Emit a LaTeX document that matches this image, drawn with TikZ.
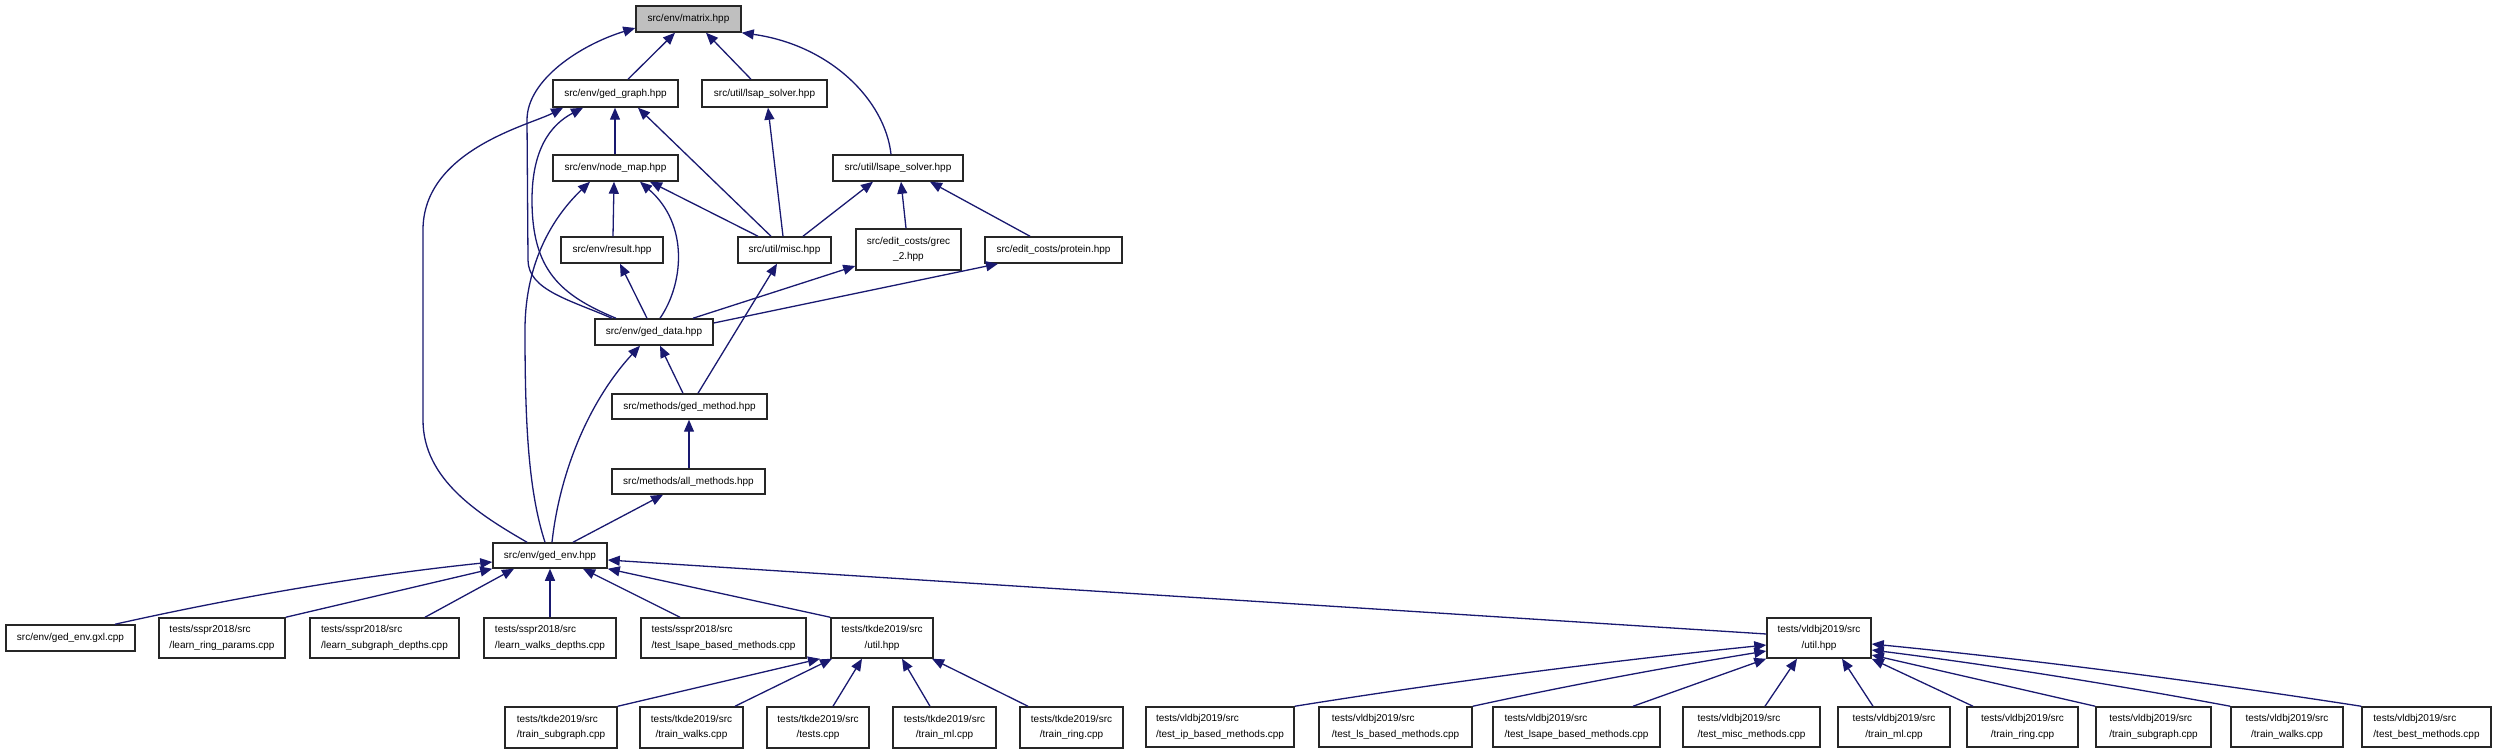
\documentclass[tikz,border=0pt]{standalone}
\usepackage{fontspec}
\setmainfont{Liberation Sans}
\usetikzlibrary{arrows.meta}
\definecolor{nodegray}{RGB}{191,191,191}
\definecolor{edgeblue}{RGB}{25,25,112}
\tikzset{
  box/.style={draw=black!85, line width=0.75pt, fill=white, inner sep=0pt,
    font={\fontsize{5}{7.85}\selectfont}, align=center},
  edge/.style={draw=edgeblue, line width=0.65pt, -{Triangle[length=6pt,width=5pt]}}
}
\newcommand{\bx}[7][]{%
  \pgfmathsetmacro\cx{(#3+#5)/2}\pgfmathsetmacro\cy{(#4+#6)/2}%
  \pgfmathsetmacro\ww{(#5-#3)*0.5}\pgfmathsetmacro\hh{(#6-#4)*0.5}%
  \node[box,minimum width=\ww pt,minimum height=\hh pt,#1] (#2) at (\cx,\cy) {#7};}
\begin{document}
\begin{tikzpicture}[x=0.5pt,y=-0.5pt]
\useasboundingbox (0,0) rectangle (2494,753);
% nodes
\bx[fill=nodegray]{matrix}{636}{6}{741}{32}{src/env/matrix.hpp}
\bx{ged_graph}{553}{80}{678}{107}{src/env/ged\_graph.hpp}
\bx{lsap}{702}{80}{827}{107}{src/util/lsap\_solver.hpp}
\bx{node_map}{553}{155}{678}{181}{src/env/node\_map.hpp}
\bx{lsape}{833}{155}{963}{181}{src/util/lsape\_solver.hpp}
\bx{result}{561}{237}{663}{263}{src/env/result.hpp}
\bx{misc}{738}{237}{831}{263}{src/util/misc.hpp}
\bx{grec}{856}{229}{961}{270}{src/edit\_costs/grec\\\_2.hpp}
\bx{protein}{985}{237}{1122}{263}{src/edit\_costs/protein.hpp}
\bx{ged_data}{595}{319}{713}{345}{src/env/ged\_data.hpp}
\bx{ged_method}{612}{394}{767}{419}{src/methods/ged\_method.hpp}
\bx{all_methods}{612}{469}{765}{494}{src/methods/all\_methods.hpp}
\bx{ged_env}{493}{543}{607}{568}{src/env/ged\_env.hpp}
\bx{gxl}{6}{625}{135}{651}{src/env/ged\_env.gxl.cpp}
\bx[align=left]{learn_ring}{159}{618}{285}{658}{tests/sspr2018/src\\/learn\_ring\_params.cpp}
\bx[align=left]{learn_subgraph}{310}{618}{459}{658}{tests/sspr2018/src\\/learn\_subgraph\_depths.cpp}
\bx[align=left]{learn_walks}{484}{618}{616}{658}{tests/sspr2018/src\\/learn\_walks\_depths.cpp}
\bx[align=left]{sspr_lsape}{641}{618}{806}{658}{tests/sspr2018/src\\/test\_lsape\_based\_methods.cpp}
\bx{tkde_util}{831}{618}{933}{658}{tests/tkde2019/src\\/util.hpp}
\bx[align=left]{t_subgraph}{505}{707}{617}{748}{tests/tkde2019/src\\/train\_subgraph.cpp}
\bx{t_walks}{640}{707}{743}{748}{tests/tkde2019/src\\/train\_walks.cpp}
\bx{t_tests}{767}{707}{869}{748}{tests/tkde2019/src\\/tests.cpp}
\bx{t_ml}{893}{707}{996}{748}{tests/tkde2019/src\\/train\_ml.cpp}
\bx{t_ring}{1020}{707}{1123}{748}{tests/tkde2019/src\\/train\_ring.cpp}
\bx{vldbj_util}{1767}{618}{1871}{658}{tests/vldbj2019/src\\/util.hpp}
\bx[align=left]{v_ip}{1146}{707}{1294}{747}{tests/vldbj2019/src\\/test\_ip\_based\_methods.cpp}
\bx[align=left]{v_ls}{1319}{707}{1472}{747}{tests/vldbj2019/src\\/test\_ls\_based\_methods.cpp}
\bx[align=left]{v_lsape}{1493}{707}{1660}{747}{tests/vldbj2019/src\\/test\_lsape\_based\_methods.cpp}
\bx[align=left]{v_misc}{1683}{707}{1820}{747}{tests/vldbj2019/src\\/test\_misc\_methods.cpp}
\bx{v_ml}{1838}{707}{1950}{747}{tests/vldbj2019/src\\/train\_ml.cpp}
\bx{v_ring}{1967}{707}{2078}{747}{tests/vldbj2019/src\\/train\_ring.cpp}
\bx[align=left]{v_subgraph}{2096}{707}{2211}{747}{tests/vldbj2019/src\\/train\_subgraph.cpp}
\bx{v_walks}{2231}{707}{2343}{747}{tests/vldbj2019/src\\/train\_walks.cpp}
\bx[align=left]{v_best}{2362}{707}{2491}{747}{tests/vldbj2019/src\\/test\_best\_methods.cpp}
% edges
\draw[edge] (628,0 |- ged_graph.north) -- (675,0 |- matrix.south);
\draw[edge] (751,0 |- lsap.north) -- (706,0 |- matrix.south);
\draw[edge] (891,0 |- lsape.north) .. controls (885,100) and (830,45) .. (matrix.south east);
\draw[edge] (612,0 |- ged_data.north) .. controls (570,300) and (528,290) .. (528,260) -- (527,120) .. controls (527,80) and (580,45) .. (matrix.west |- 0,28);
\draw[edge] (527,0 |- ged_env.north) .. controls (480,515) and (423,480) .. (423,420) -- (423,230) .. controls (423,150) and (530,125) .. (563,0 |- ged_graph.south);
\draw[edge] (616,0 |- ged_data.north) .. controls (560,295) and (532,270) .. (532,200) .. controls (532,150) and (550,125) .. (583,0 |- ged_graph.south);
\draw[edge] (615,0 |- node_map.north) -- (615,0 |- ged_graph.south);
\draw[edge] (771,0 |- misc.north) -- (638,0 |- ged_graph.south);
\draw[edge] (783,0 |- misc.north) -- (768,0 |- lsap.south);
\draw[edge] (545,0 |- ged_env.north) .. controls (528,490) and (525,420) .. (525,330) .. controls (525,260) and (555,215) .. (590,0 |- node_map.south);
\draw[edge] (613,0 |- result.north) -- (614,0 |- node_map.south);
\draw[edge] (660,0 |- ged_data.north) .. controls (683,285) and (690,225) .. (640,0 |- node_map.south);
\draw[edge] (758,0 |- misc.north) -- (650,0 |- node_map.south);
\draw[edge] (803,0 |- misc.north) -- (873,0 |- lsape.south);
\draw[edge] (906,0 |- grec.north) -- (901,0 |- lsape.south);
\draw[edge] (1030,0 |- protein.north) -- (930,0 |- lsape.south);
\draw[edge] (647,0 |- ged_data.north) -- (620,0 |- result.south);
\draw[edge] (693,0 |- ged_data.north) -- (grec.west |- 0,266);
\draw[edge] (ged_data.east |- 0,323) -- (998,0 |- protein.south);
\draw[edge] (698,0 |- ged_method.north) -- (777,0 |- misc.south);
\draw[edge] (683,0 |- ged_method.north) -- (660,0 |- ged_data.south);
\draw[edge] (552,0 |- ged_env.north) .. controls (560,470) and (590,400) .. (640,0 |- ged_data.south);
\draw[edge] (689,0 |- all_methods.north) -- (689,0 |- ged_method.south);
\draw[edge] (573,0 |- ged_env.north) -- (663,0 |- all_methods.south);
\draw[edge] (vldbj_util.west |- 0,634) -- (ged_env.east |- 0,560);
\draw[edge] (115,0 |- gxl.north) .. controls (241,596) and (367,575) .. (ged_env.west |- 0,562);
\draw[edge] (learn_ring.north east) -- (ged_env.south west);
\draw[edge] (425,0 |- learn_subgraph.north) -- (514,0 |- ged_env.south);
\draw[edge] (550,0 |- learn_walks.north) -- (550,0 |- ged_env.south);
\draw[edge] (680,0 |- sspr_lsape.north) -- (583,0 |- ged_env.south);
\draw[edge] (tkde_util.north west) -- (ged_env.south east);
\draw[edge] (t_subgraph.north east) -- (820,0 |- tkde_util.south);
\draw[edge] (735,0 |- t_walks.north) -- (832,0 |- tkde_util.south);
\draw[edge] (833,0 |- t_tests.north) -- (862,0 |- tkde_util.south);
\draw[edge] (930,0 |- t_ml.north) -- (902,0 |- tkde_util.south);
\draw[edge] (1028,0 |- t_ring.north) -- (932,0 |- tkde_util.south);
\draw[edge] (v_ip.north east) .. controls (1452,681) and (1610,661) .. (vldbj_util.west |- 0,645);
\draw[edge] (v_ls.north east) .. controls (1570,685) and (1668,667) .. (vldbj_util.west |- 0,651);
\draw[edge] (1633,0 |- v_lsape.north) -- (vldbj_util.south west);
\draw[edge] (1765,0 |- v_misc.north) -- (1797,0 |- vldbj_util.south);
\draw[edge] (1873,0 |- v_ml.north) -- (1842,0 |- vldbj_util.south);
\draw[edge] (1973,0 |- v_ring.north) -- (vldbj_util.south east);
\draw[edge] (v_subgraph.north west) -- (vldbj_util.east |- 0,655);
\draw[edge] (v_walks.north west) .. controls (2111,684) and (1991,665) .. (vldbj_util.east |- 0,650);
\draw[edge] (v_best.north west) .. controls (2198,681) and (2035,660) .. (vldbj_util.east |- 0,644);
\end{tikzpicture}
\end{document}
